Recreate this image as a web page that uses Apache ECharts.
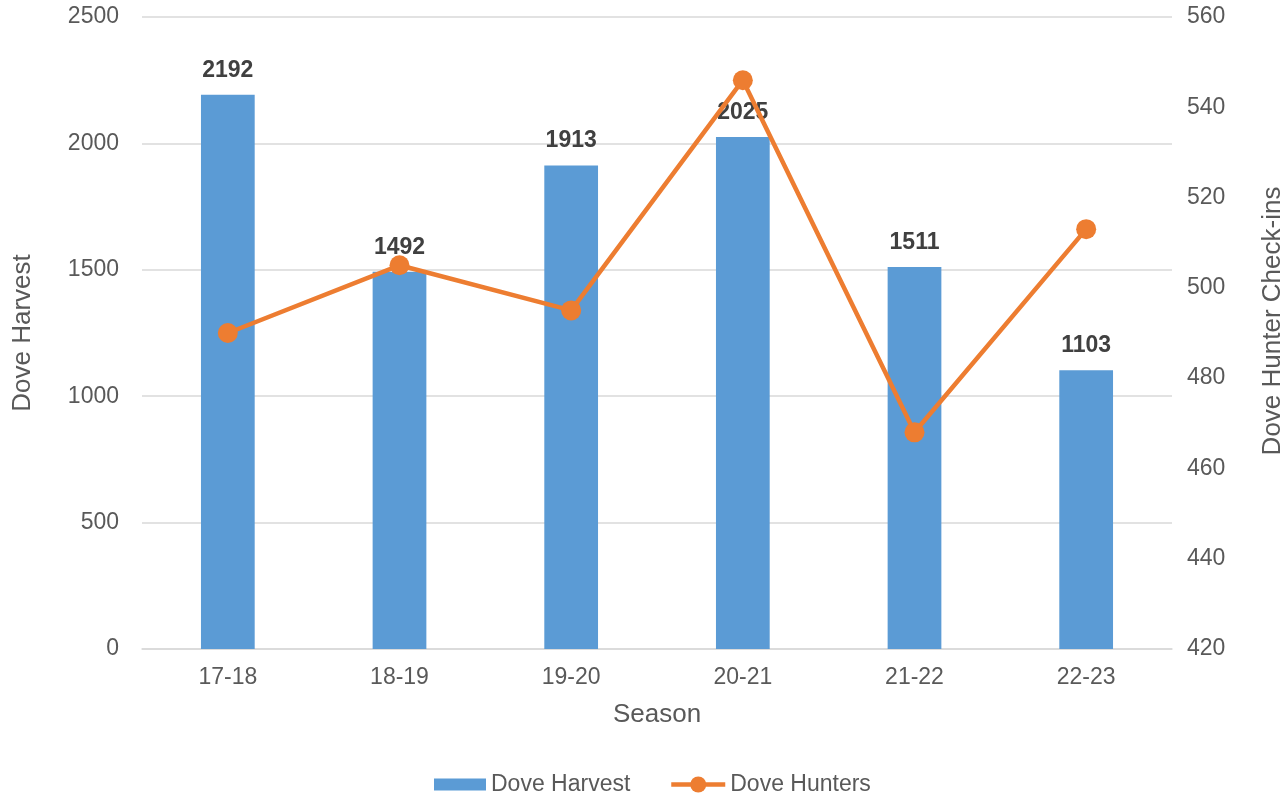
<!DOCTYPE html>
<html>
<head>
<meta charset="utf-8">
<title>Dove Harvest and Hunters by Season</title>
<script src="https://cdn.jsdelivr.net/npm/echarts@6/dist/echarts.min.js"></script>
<style>
  html, body { margin: 0; padding: 0; background: #ffffff; overflow: hidden; }
  #chart { width: 1287px; height: 794px; }
</style>
</head>
<body>
<div id="chart"></div>
<script>
// Seasons on the category axis
const seasons = ['17-18', '18-19', '19-20', '20-21', '21-22', '22-23'];
// Doves harvested per season (left axis)
const doveHarvest = [2192, 1492, 1913, 2025, 1511, 1103];
// Hunter check-ins per season (right axis)
const doveHunters = [490, 505, 495, 546, 468, 513];
// Axis ranges and tick steps
const harvestAxis = { min: 0, max: 2500, step: 500 };
const huntersAxis = { min: 420, max: 560, step: 20 };

const FONT = '"Liberation Sans", Arial, sans-serif';
const TEXT = '#595959';
const GRID = '#d9d9d9';
const BLUE = '#5b9bd5';
const ORANGE = '#ed7d31';

const legendText = { fontFamily: FONT, fontSize: 23, color: TEXT };

const chart = echarts.init(document.getElementById('chart'), null, { renderer: 'canvas' });

chart.setOption({
  animation: false,
  backgroundColor: '#ffffff',
  textStyle: { fontFamily: FONT },
  grid: {
    left: 142, right: 115, top: 17, bottom: 145,
    containLabel: false,
    outerBoundsMode: 'none'
  },
  // Two legend blocks so the bar swatch and the line icon can have their own sizes
  legend: [
    {
      left: 434,
      top: 773,
      padding: 0,
      itemWidth: 52,
      itemHeight: 12,
      textStyle: legendText,
      data: [{ name: 'Dove Harvest', icon: 'rect' }]
    },
    {
      left: 669,
      top: 773,
      padding: 0,
      itemWidth: 54,
      itemHeight: 20,
      textStyle: legendText,
      data: [{
        name: 'Dove Hunters',
        lineStyle: { color: ORANGE, width: 4.5 },
        itemStyle: { color: ORANGE }
      }]
    }
  ],
  xAxis: {
    type: 'category',
    data: seasons,
    name: 'Season',
    nameLocation: 'middle',
    nameGap: 53,
    nameTextStyle: { fontFamily: FONT, fontSize: 26, color: TEXT },
    axisLine: { lineStyle: { color: GRID, width: 1.5 } },
    axisTick: { show: false },
    axisLabel: { fontFamily: FONT, fontSize: 23, color: TEXT, margin: 17 }
  },
  yAxis: [
    {
      type: 'value',
      min: harvestAxis.min,
      max: harvestAxis.max,
      interval: harvestAxis.step,
      name: 'Dove Harvest',
      nameLocation: 'middle',
      nameGap: 106,
      nameTextStyle: { fontFamily: FONT, fontSize: 26, color: TEXT },
      axisLine: { show: false },
      axisTick: { show: false },
      axisLabel: {
        fontFamily: FONT, fontSize: 23, color: TEXT, margin: 23,
        formatter: (v) => String(v)
      },
      splitLine: { lineStyle: { color: GRID, width: 1.5 } }
    },
    {
      type: 'value',
      position: 'right',
      min: huntersAxis.min,
      max: huntersAxis.max,
      interval: huntersAxis.step,
      name: 'Dove Hunter Check-ins',
      nameLocation: 'middle',
      nameGap: 88,
      nameRotate: 90,
      nameTextStyle: { fontFamily: FONT, fontSize: 26, color: TEXT, padding: [0, 0, 0, 24] },
      axisLine: { show: false },
      axisTick: { show: false },
      axisLabel: {
        fontFamily: FONT, fontSize: 23, color: TEXT, margin: 15,
        formatter: (v) => String(v)
      },
      splitLine: { show: false }
    }
  ],
  series: [
    {
      name: 'Dove Harvest',
      type: 'bar',
      yAxisIndex: 0,
      data: doveHarvest,
      barWidth: '31.3%',
      itemStyle: { color: BLUE },
      label: {
        show: true,
        position: 'top',
        distance: 13,
        fontFamily: FONT,
        fontSize: 23,
        fontWeight: 'bold',
        color: '#404040'
      },
      z: 2
    },
    {
      name: 'Dove Hunters',
      type: 'line',
      yAxisIndex: 1,
      data: doveHunters,
      symbol: 'circle',
      symbolSize: 20,
      lineStyle: { color: ORANGE, width: 4.5 },
      itemStyle: { color: ORANGE },
      z: 3
    }
  ]
});
</script>
</body>
</html>
